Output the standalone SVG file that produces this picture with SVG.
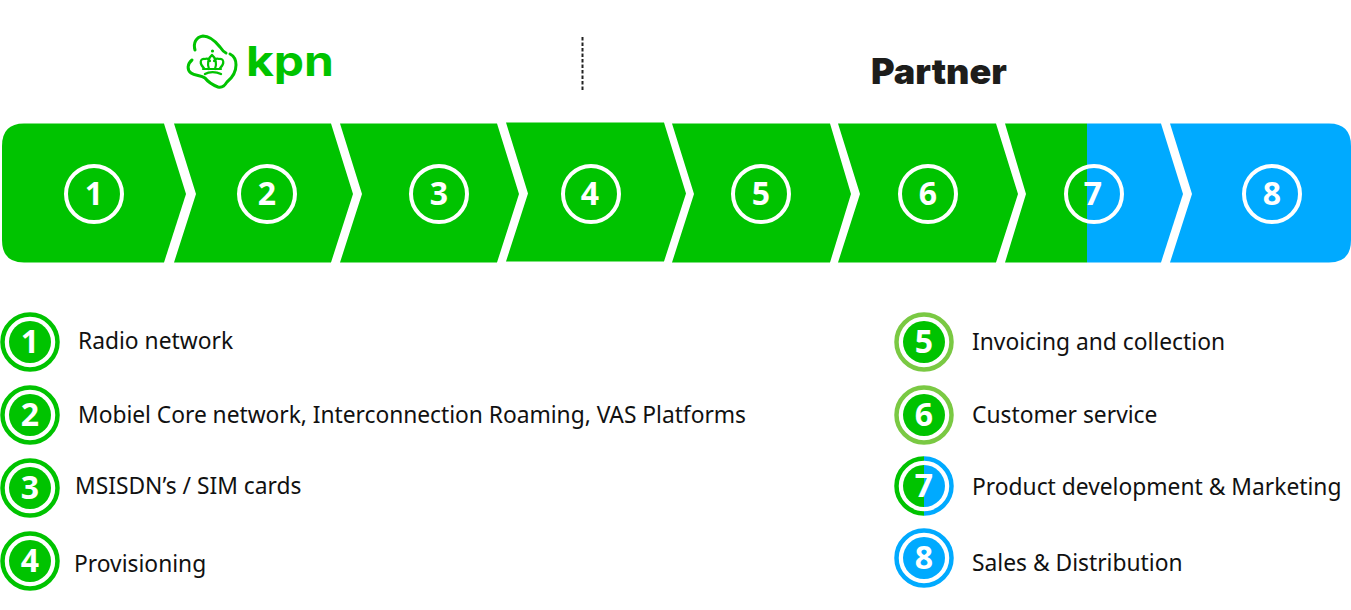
<svg xmlns="http://www.w3.org/2000/svg" width="1351" height="610" viewBox="0 0 1351 610">
<style>
.g{fill:#00c300}.b{fill:#00aaff}
.cn{fill:none;stroke:#fff;stroke-width:4}
.n{font-family:"Open Sans","Liberation Sans",sans-serif;font-weight:700;text-anchor:middle;fill:#fff;font-size:32px}
.t{font-family:"Noto Sans","Liberation Sans",sans-serif;font-size:22.8px;fill:#111}
.ring{fill:none;stroke-width:4.5}
</style>
<rect width="1351" height="610" fill="#fff"/>
<g id="header">
<g id="kpn-logo" fill="none" stroke="#00c300" stroke-linecap="round" stroke-linejoin="round">
<path stroke-width="3" d="M195 50C193 43 196 37 203 36C210 36 216 42 220 47C222 50 224 52 226 53"/>
<path stroke-width="3" d="M192 60C187 64 187 70 191 73C195 76 201 75 205 78C208 82 213 85 218 87C223 88 225 85 227 82C232 78 236 72 236 65C236 59 234 56 230 54"/>
<path stroke-width="2.200" d="M204 68C199 64 200 58 205 59C207 58 209 59 210 61M220 68C225 64 224 58 219 59C217 58 215 59 214 61M209 69C207 64 208 58 212 55C216 58 217 64 215 69M203 69H221"/>
<circle cx="212.500" cy="51" r="1.600" fill="#00c300" stroke="none"/>
<path stroke-width="2.400" d="M205 74C209 71.500 216 71.500 221 74"/>
</g>
<text id="kpn-word" x="246" y="76" font-family="Inter,'Liberation Sans',sans-serif" font-weight="700" font-size="41" fill="#00c300" textLength="88" lengthAdjust="spacingAndGlyphs">kpn</text>
<line id="divider" x1="582.500" y1="37" x2="582.500" y2="90" stroke="#222" stroke-width="2" stroke-dasharray="3.500 2"/>
<text id="partner" x="871" y="84" font-family="Inter,'Liberation Sans',sans-serif" font-weight="900" font-size="35" fill="#1d1d1b" textLength="136" lengthAdjust="spacingAndGlyphs">Partner</text>
</g>
<g id="chevron-1"><path class="g" d="M24 123.500H164L186 194L164 262.500H24Q2 262.500 2 240V146Q2 123.500 24 123.500Z"/><circle class="cn" cx="94" cy="194" r="28"/><text class="n" x="94" y="205">1</text></g>
<g id="chevron-2"><path class="g" d="M174 123.500H331L353 194L331 262.500H174L196 194Z"/><circle class="cn" cx="267" cy="194" r="28"/><text class="n" x="267" y="205">2</text></g>
<g id="chevron-3"><path class="g" d="M340 123.500H497L519 194L497 262.500H340L362 194Z"/><circle class="cn" cx="439" cy="194" r="28"/><text class="n" x="439" y="205">3</text></g>
<g id="chevron-4"><path class="g" d="M506 122.500H664L686 193.500L664 261.500H506L528 193.500Z"/><circle class="cn" cx="591" cy="194" r="28"/><text class="n" x="590" y="205">4</text></g>
<g id="chevron-5"><path class="g" d="M672 123.500H830L851 194L830 262.500H672L694 194Z"/><circle class="cn" cx="761" cy="194" r="28"/><text class="n" x="761" y="205">5</text></g>
<g id="chevron-6"><path class="g" d="M838 123.500H996L1018 194L996 262.500H838L860 194Z"/><circle class="cn" cx="928" cy="194" r="28"/><text class="n" x="928" y="205">6</text></g>
<g id="chevron-7"><path class="g" d="M1005 123.500H1087V262.500H1005L1026 194Z"/><path class="b" d="M1087 123.500H1161L1183 194L1161 262.500H1087Z"/><circle class="cn" cx="1094" cy="194" r="28"/><text class="n" x="1093" y="205">7</text></g>
<g id="chevron-8"><path class="b" d="M1170 123.500H1329Q1351 123.500 1351 146V240Q1351 262.500 1329 262.500H1170L1192 194Z"/><circle class="cn" cx="1272" cy="194" r="28"/><text class="n" x="1272" y="205">8</text></g>

<g id="legend-1"><circle class="ring" cx="30" cy="342" r="27.500" stroke="#00c300"/><circle class="g" cx="30" cy="342" r="21"/><text class="n" x="30" y="353">1</text><text class="t" x="78" y="349">Radio network</text></g>
<g id="legend-2"><circle class="ring" cx="30" cy="415" r="27.500" stroke="#00c300"/><circle class="g" cx="30" cy="415" r="21"/><text class="n" x="30" y="426">2</text><text class="t" x="78" y="423" textLength="668">Mobiel Core network, Interconnection Roaming, VAS Platforms</text></g>
<g id="legend-3"><circle class="ring" cx="30" cy="488" r="27.500" stroke="#00c300"/><circle class="g" cx="30" cy="488" r="21"/><text class="n" x="30" y="499">3</text><text class="t" x="75" y="494">MSISDN’s / SIM cards</text></g>
<g id="legend-4"><circle class="ring" cx="30" cy="561" r="27.500" stroke="#00c300"/><circle class="g" cx="30" cy="561" r="21"/><text class="n" x="30" y="572">4</text><text class="t" x="74" y="572">Provisioning</text></g>
<g id="legend-5"><circle class="ring" cx="924" cy="342" r="27.500" stroke="#7ac943"/><circle class="g" cx="924" cy="342" r="21"/><text class="n" x="924" y="353">5</text><text class="t" x="972" y="350">Invoicing and collection</text></g>
<g id="legend-6"><circle class="ring" cx="924" cy="415" r="27.500" stroke="#7ac943"/><circle class="g" cx="924" cy="415" r="21"/><text class="n" x="924" y="426">6</text><text class="t" x="972" y="423">Customer service</text></g>
<g id="legend-7"><path class="ring" d="M924 458.500A27.500 27.500 0 0 0 924 513.500" stroke="#00c300"/><path class="ring" d="M924 458.500A27.500 27.500 0 0 1 924 513.500" stroke="#00aaff"/><path class="g" d="M924 465A21 21 0 0 0 924 507Z"/><path class="b" d="M924 465A21 21 0 0 1 924 507Z"/><text class="n" x="924" y="497">7</text><text class="t" x="972" y="495">Product development &amp; Marketing</text></g>
<g id="legend-8"><circle class="ring" cx="924" cy="558" r="27.500" stroke="#00aaff"/><circle class="b" cx="924" cy="558" r="21"/><text class="n" x="924" y="569">8</text><text class="t" x="972" y="571">Sales &amp; Distribution</text></g>
</svg>
